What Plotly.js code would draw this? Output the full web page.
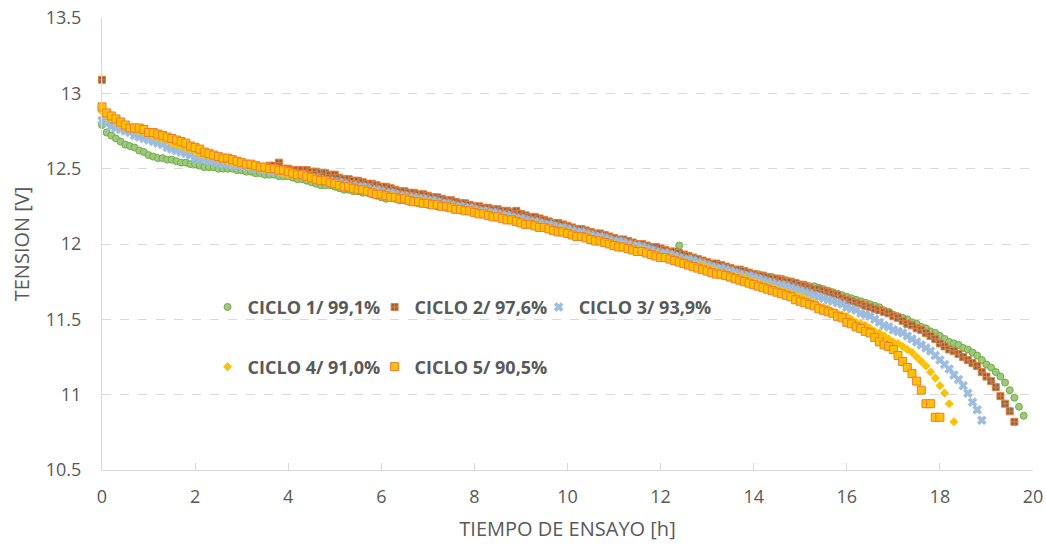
<!DOCTYPE html>
<html>
<head>
<meta charset="utf-8">
<script src="https://cdn.plot.ly/plotly-3.0.1.min.js"></script>
<style>html,body{margin:0;padding:0;background:#fff;}#chart{width:1046px;height:545px;}</style>
</head>
<body>
<div id="chart"></div>
<script>
// Sampling step of the logged data (hours)
const PASO_H = 0.1;

const nombres = ["CICLO 1/ 99,1%", "CICLO 2/ 97,6%", "CICLO 3/ 93,9%", "CICLO 4/ 91,0%", "CICLO 5/ 90,5%"];

const ciclo1 = [
12.79,12.74,12.72,12.70,12.68,12.66,12.65,12.64,12.62,12.61,
12.59,12.58,12.57,12.57,12.56,12.56,12.55,12.54,12.54,12.53,
12.53,12.52,12.51,12.51,12.51,12.50,12.50,12.50,12.50,12.49,
12.49,12.48,12.48,12.47,12.47,12.46,12.46,12.46,12.45,12.45,
12.45,12.44,12.43,12.43,12.42,12.41,12.40,12.39,12.39,12.39,
12.38,12.37,12.36,12.36,12.35,12.35,12.34,12.34,12.33,12.32,
12.31,12.30,12.32,12.30,12.29,12.29,12.28,12.28,12.27,12.27,
12.26,12.26,12.25,12.25,12.24,12.24,12.23,12.23,12.22,12.22,
12.21,12.21,12.20,12.19,12.19,12.18,12.17,12.17,12.16,12.16,
12.15,12.14,12.14,12.13,12.12,12.12,12.11,12.10,12.10,12.09,
12.08,12.08,12.07,12.06,12.06,12.05,12.04,12.04,12.03,12.02,
12.01,12.01,12.00,11.99,11.99,11.98,11.97,11.96,11.96,11.95,
11.93,11.93,11.92,11.91,11.99,11.90,11.89,11.89,11.88,11.87,
11.86,11.86,11.85,11.84,11.84,11.83,11.83,11.82,11.81,11.81,
11.80,11.80,11.79,11.78,11.78,11.77,11.77,11.76,11.75,11.74,
11.73,11.73,11.72,11.72,11.71,11.70,11.69,11.68,11.67,11.66,
11.65,11.64,11.63,11.62,11.61,11.60,11.59,11.58,11.56,11.55,
11.53,11.52,11.51,11.50,11.48,11.47,11.45,11.44,11.42,11.41,
11.39,11.37,11.35,11.34,11.33,11.31,11.30,11.28,11.26,11.23,
11.20,11.18,11.15,11.12,11.08,11.03,10.98,10.92,10.86
];

const ciclo2 = [
13.09,12.85,12.82,12.80,12.78,12.77,12.76,12.75,12.74,12.73,
12.73,12.72,12.71,12.70,12.69,12.68,12.67,12.66,12.65,12.64,
12.63,12.62,12.60,12.59,12.58,12.57,12.56,12.55,12.55,12.54,
12.53,12.53,12.52,12.52,12.51,12.51,12.52,12.52,12.54,12.50,
12.50,12.49,12.49,12.49,12.49,12.48,12.48,12.47,12.47,12.46,
12.46,12.44,12.43,12.43,12.42,12.42,12.41,12.40,12.40,12.39,
12.38,12.38,12.37,12.36,12.35,12.35,12.34,12.34,12.33,12.33,
12.32,12.31,12.31,12.30,12.29,12.29,12.28,12.27,12.27,12.26,
12.25,12.25,12.24,12.24,12.23,12.23,12.22,12.22,12.21,12.22,
12.20,12.19,12.18,12.18,12.17,12.16,12.15,12.14,12.14,12.13,
12.12,12.11,12.10,12.10,12.09,12.08,12.07,12.07,12.06,12.05,
12.04,12.03,12.03,12.02,12.01,12.00,12.00,11.99,11.98,11.98,
11.97,11.96,11.95,11.95,11.94,11.93,11.92,11.91,11.90,11.89,
11.88,11.87,11.87,11.86,11.85,11.84,11.83,11.83,11.82,11.81,
11.80,11.79,11.79,11.78,11.77,11.77,11.76,11.75,11.75,11.74,
11.73,11.72,11.71,11.70,11.70,11.69,11.68,11.67,11.66,11.64,
11.63,11.62,11.61,11.60,11.59,11.58,11.57,11.56,11.55,11.54,
11.52,11.51,11.49,11.47,11.46,11.44,11.43,11.41,11.39,11.37,
11.34,11.32,11.30,11.29,11.27,11.25,11.23,11.21,11.19,11.15,
11.12,11.09,11.05,10.99,10.94,10.89,10.82
];

const ciclo3 = [
12.82,12.80,12.78,12.77,12.76,12.75,12.74,12.72,12.71,12.70,
12.69,12.68,12.67,12.66,12.64,12.63,12.62,12.61,12.60,12.59,
12.57,12.56,12.56,12.55,12.55,12.54,12.53,12.53,12.52,12.52,
12.52,12.51,12.51,12.50,12.50,12.49,12.49,12.48,12.48,12.47,
12.47,12.46,12.46,12.45,12.45,12.44,12.44,12.43,12.42,12.42,
12.41,12.41,12.40,12.39,12.39,12.38,12.38,12.37,12.36,12.36,
12.35,12.34,12.34,12.33,12.32,12.32,12.31,12.31,12.30,12.30,
12.29,12.29,12.28,12.27,12.27,12.26,12.25,12.25,12.24,12.24,
12.23,12.22,12.22,12.21,12.21,12.20,12.19,12.19,12.18,12.17,
12.17,12.16,12.15,12.15,12.14,12.13,12.13,12.12,12.11,12.11,
12.10,12.09,12.08,12.08,12.07,12.06,12.05,12.05,12.04,12.03,
12.02,12.02,12.01,12.00,11.99,11.99,11.98,11.97,11.96,11.95,
11.94,11.94,11.93,11.92,11.91,11.90,11.90,11.89,11.88,11.87,
11.86,11.85,11.84,11.84,11.83,11.82,11.81,11.80,11.79,11.79,
11.78,11.77,11.76,11.75,11.74,11.73,11.73,11.72,11.71,11.70,
11.69,11.68,11.67,11.66,11.65,11.64,11.63,11.62,11.61,11.60,
11.58,11.57,11.56,11.54,11.53,11.52,11.50,11.48,11.46,11.45,
11.43,11.42,11.41,11.39,11.37,11.35,11.33,11.31,11.29,11.26,
11.23,11.20,11.17,11.13,11.10,11.06,11.01,10.95,10.90,10.83
];

const ciclo4 = [
12.88,12.85,12.83,12.81,12.79,12.78,12.77,12.76,12.75,12.74,
12.73,12.72,12.71,12.70,12.69,12.67,12.66,12.65,12.64,12.63,
12.62,12.60,12.59,12.59,12.58,12.57,12.56,12.55,12.54,12.54,
12.53,12.52,12.52,12.51,12.50,12.50,12.49,12.49,12.48,12.47,
12.46,12.46,12.45,12.45,12.44,12.43,12.43,12.42,12.42,12.41,
12.40,12.39,12.39,12.38,12.37,12.37,12.36,12.35,12.35,12.34,
12.33,12.33,12.32,12.32,12.31,12.30,12.30,12.29,12.29,12.28,
12.28,12.27,12.26,12.26,12.25,12.25,12.24,12.23,12.23,12.22,
12.22,12.21,12.20,12.20,12.19,12.18,12.18,12.17,12.16,12.16,
12.15,12.14,12.14,12.13,12.12,12.11,12.11,12.10,12.09,12.09,
12.08,12.07,12.06,12.06,12.05,12.04,12.03,12.03,12.02,12.01,
12.00,11.99,11.99,11.98,11.97,11.96,11.96,11.95,11.94,11.93,
11.92,11.91,11.91,11.90,11.89,11.88,11.87,11.86,11.86,11.85,
11.84,11.83,11.82,11.81,11.80,11.79,11.79,11.78,11.77,11.76,
11.75,11.74,11.73,11.72,11.71,11.70,11.69,11.68,11.67,11.66,
11.65,11.64,11.62,11.61,11.59,11.58,11.57,11.55,11.54,11.53,
11.52,11.50,11.48,11.47,11.46,11.44,11.42,11.41,11.39,11.37,
11.35,11.34,11.32,11.30,11.28,11.25,11.22,11.19,11.15,11.11,
11.06,11.01,10.94,10.82
];

const ciclo5 = [
12.91,12.87,12.85,12.83,12.81,12.79,12.77,12.77,12.77,12.76,
12.74,12.74,12.73,12.72,12.71,12.70,12.69,12.68,12.67,12.65,
12.64,12.63,12.61,12.60,12.59,12.58,12.57,12.57,12.56,12.55,
12.54,12.53,12.53,12.52,12.51,12.51,12.50,12.50,12.49,12.49,
12.48,12.47,12.46,12.46,12.45,12.44,12.43,12.42,12.42,12.41,
12.40,12.39,12.38,12.38,12.37,12.36,12.36,12.35,12.34,12.33,
12.33,12.32,12.31,12.31,12.30,12.30,12.29,12.28,12.28,12.27,
12.27,12.26,12.26,12.25,12.25,12.24,12.23,12.23,12.22,12.22,
12.21,12.20,12.20,12.19,12.18,12.18,12.17,12.16,12.16,12.15,
12.14,12.13,12.13,12.12,12.11,12.11,12.10,12.09,12.08,12.08,
12.07,12.06,12.05,12.05,12.04,12.03,12.02,12.02,12.01,12.00,
11.99,11.98,11.98,11.97,11.96,11.95,11.95,11.94,11.93,11.92,
11.91,11.91,11.90,11.89,11.88,11.87,11.86,11.85,11.84,11.83,
11.82,11.81,11.80,11.80,11.79,11.78,11.77,11.76,11.75,11.74,
11.73,11.72,11.71,11.70,11.69,11.68,11.67,11.66,11.65,11.63,
11.62,11.61,11.60,11.59,11.57,11.56,11.55,11.54,11.52,11.51,
11.48,11.47,11.45,11.44,11.42,11.41,11.38,11.35,11.33,11.32,
11.30,11.26,11.22,11.18,11.14,11.09,11.03,10.94,10.94,10.85,
10.85
];

const ejeXTicks = [0, 2, 4, 6, 8, 10, 12, 14, 16, 18, 20];
const ejeYTicks = [10.5, 11, 11.5, 12, 12.5, 13, 13.5];
const ejeYTexto = ['10.5', '11', '11.5', '12', '12.5', '13', '13.5'];

function tiempos(n) { const t = []; for (let i = 0; i < n; i++) t.push(+(i * PASO_H).toFixed(2)); return t; }

const estilos = [
  {symbol: 'circle', size: 7, color: '#9CC97C', line: {color: '#70AD47', width: 1}},
  {symbol: 'square-cross', size: 7, color: '#7C6858', line: {color: '#ED7D31', width: 1}},
  {symbol: 'x', size: 8, color: '#9DBEE0', line: {color: '#8EB0D8', width: 0.5}},
  {symbol: 'diamond', size: 7, color: '#FFC000', line: {color: '#FFC000', width: 0}},
  {symbol: 'square', size: 8, color: '#FFC000', line: {color: '#ED7D31', width: 1}}
];
const series = [ciclo1, ciclo2, ciclo3, ciclo4, ciclo5];
const legendas = ['legend', 'legend2', 'legend3', 'legend4', 'legend5'];

const data = series.map((s, i) => ({
  type: 'scatter', mode: 'markers', name: nombres[i],
  x: tiempos(s.length), y: s,
  marker: estilos[i], legend: legendas[i], cliponaxis: false
}));

const fontEje = {family: 'Open Sans, sans-serif', size: 18, color: '#595959'};
const fontTit = {family: 'Open Sans, sans-serif', size: 20, color: '#595959'};
const fontLeg = {family: 'Open Sans, sans-serif', size: 18, color: '#595959', weight: 'bold'};

function leyenda(x, y) {
  return {orientation: 'v', x: x, y: y, xanchor: 'left', yanchor: 'middle',
          font: fontLeg, bgcolor: 'rgba(0,0,0,0)', borderwidth: 0};
}

const layout = {
  width: 1046, height: 545,
  margin: {l: 102, r: 13, t: 18, b: 75},
  paper_bgcolor: '#ffffff', plot_bgcolor: '#ffffff',
  showlegend: true,
  legend: leyenda(0.1134, 0.36),
  legend2: leyenda(0.2928, 0.36),
  legend3: leyenda(0.469, 0.36),
  legend4: leyenda(0.1134, 0.228),
  legend5: leyenda(0.2928, 0.228),
  xaxis: {
    range: [0, 20], tickvals: ejeXTicks, ticktext: ejeXTicks.map(String),
    showgrid: false, zeroline: false, showline: true, linecolor: '#D9D9D9', linewidth: 1,
    ticks: 'inside', ticklen: 7, tickcolor: '#D9D9D9', ticklabelstandoff: 10,
    tickfont: fontEje,
    title: {text: 'TIEMPO DE ENSAYO [h]', font: fontTit, standoff: 15}
  },
  yaxis: {
    range: [10.5, 13.5], tickvals: ejeYTicks, ticktext: ejeYTexto,
    showgrid: true, gridcolor: '#D9D9D9', griddash: 'dash', gridwidth: 1,
    zeroline: false, showline: true, linecolor: '#D9D9D9', linewidth: 1,
    ticks: '', ticklabelstandoff: 16, tickfont: fontEje,
    title: {text: 'TENSION [V]', font: fontTit, standoff: 10}
  }
};

Plotly.newPlot('chart', data, layout, {staticPlot: true, displayModeBar: false});
</script>
</body>
</html>
